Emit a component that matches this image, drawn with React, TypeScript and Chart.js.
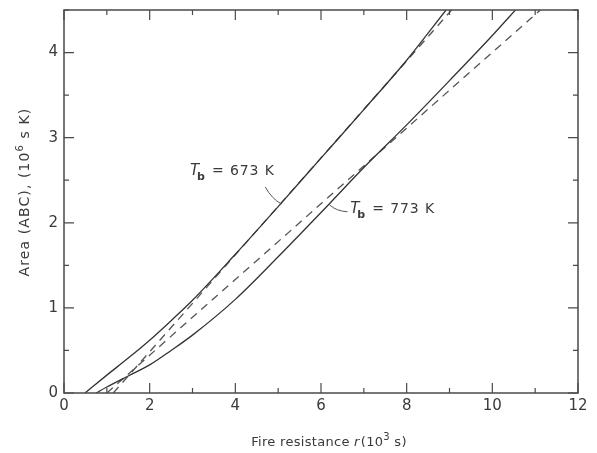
import React, { useEffect, useRef } from "react";
import { Chart, registerables } from "chart.js";

Chart.register(...registerables);

// Data (r in 10^3 s, area in 10^6 s K)
const r673Solid = [0.49, 1, 1.5, 2, 2.5, 3, 4, 5, 6, 7, 8, 8.92];
const a673Solid = [0, 0.21, 0.41, 0.62, 0.85, 1.09, 1.63, 2.19, 2.76, 3.33, 3.91, 4.5];
const r673Dashed = [1.15, 9.05];
const a673Dashed = [0, 4.5];
const r773Solid = [0.75, 1, 1.5, 2, 2.5, 3, 4, 5, 6, 7, 8, 9, 10, 10.54];
const a773Solid = [0, 0.07, 0.2, 0.33, 0.5, 0.68, 1.1, 1.6, 2.12, 2.65, 3.15, 3.67, 4.2, 4.5];
const r773Dashed = [1.0, 11.12];
const a773Dashed = [0, 4.5];

const xTickValues = [0, 2, 4, 6, 8, 10, 12];
const yTickValues = [0, 1, 2, 3, 4];

// Annotation labels in data units
const labelTexts = ["673 K", "773 K"];
const labelPos = [
  [2.94, 2.56],
  [6.68, 2.11],
];
const leaderFrom = [
  [4.7, 2.42],
  [6.2, 2.21],
];
const leaderTo = [
  [5.08, 2.22],
  [6.62, 2.13],
];

const FONT = "'DejaVu Sans', sans-serif";
const INK = "#3a3a3a";

const toPts = (xs: number[], ys: number[]) => xs.map((x, i) => ({ x, y: ys[i] }));

const decorPlugin = {
  id: "decor",
  afterDraw(chart: any) {
    const { ctx, chartArea } = chart;
    const xs = chart.scales.x;
    const ys = chart.scales.y;
    const { left, right, top, bottom } = chartArea;
    ctx.save();
    // frame
    ctx.strokeStyle = "#4a4a4a";
    ctx.lineWidth = 1.5;
    ctx.strokeRect(left, top, right - left, bottom - top);
    // inward ticks
    ctx.lineWidth = 1.2;
    ctx.beginPath();
    for (let v = 0; v <= 12; v += 1) {
      const px = xs.getPixelForValue(v);
      const len = v % 2 === 0 ? 10 : 5;
      ctx.moveTo(px, bottom);
      ctx.lineTo(px, bottom - len);
      ctx.moveTo(px, top);
      ctx.lineTo(px, top + len);
    }
    for (let v = 0; v <= 4.5; v += 0.5) {
      const py = ys.getPixelForValue(v);
      const len = Number.isInteger(v) ? 10 : 5;
      ctx.moveTo(left, py);
      ctx.lineTo(left + len, py);
      ctx.moveTo(right, py);
      ctx.lineTo(right - len, py);
    }
    ctx.stroke();

    // leaders
    ctx.strokeStyle = "#555";
    ctx.lineWidth = 1;
    for (let i = 0; i < labelTexts.length; i++) {
      const x1 = xs.getPixelForValue(leaderFrom[i][0]);
      const y1 = ys.getPixelForValue(leaderFrom[i][1]);
      const x2 = xs.getPixelForValue(leaderTo[i][0]);
      const y2 = ys.getPixelForValue(leaderTo[i][1]);
      ctx.beginPath();
      ctx.moveTo(x1, y1);
      ctx.quadraticCurveTo((x1 + x2) / 2 - 2, (y1 + y2) / 2 + 3, x2, y2);
      ctx.stroke();
    }

    // labels T_b = ... K
    ctx.fillStyle = INK;
    ctx.textBaseline = "alphabetic";
    ctx.textAlign = "left";
    for (let i = 0; i < labelTexts.length; i++) {
      const lx = xs.getPixelForValue(labelPos[i][0]);
      const ly = ys.getPixelForValue(labelPos[i][1]);
      let cx = lx;
      ctx.font = `italic 15px ${FONT}`;
      ctx.fillText("T", cx, ly);
      cx += ctx.measureText("T").width - 2;
      ctx.font = `bold 11px ${FONT}`;
      ctx.fillText("b", cx, ly + 5);
      cx += ctx.measureText("b").width + 7;
      ctx.font = `14px ${FONT}`;
      (ctx as any).letterSpacing = "0.9px";
      ctx.fillText("= " + labelTexts[i], cx, ly);
      (ctx as any).letterSpacing = "0px";
    }

    // x axis title
    (ctx as any).letterSpacing = "0.3px";
    const xt1 = "Fire resistance ";
    const xt2 = "r";
    const xt3 = "(10";
    const xt4 = "3";
    const xt5 = " s)";
    ctx.font = `13px ${FONT}`;
    const w1 = ctx.measureText(xt1).width;
    ctx.font = `italic 13px ${FONT}`;
    const w2 = ctx.measureText(xt2).width + 1;
    ctx.font = `13px ${FONT}`;
    const w3 = ctx.measureText(xt3).width;
    ctx.font = `10px ${FONT}`;
    const w4 = ctx.measureText(xt4).width;
    ctx.font = `13px ${FONT}`;
    const w5 = ctx.measureText(xt5).width;
    const total = w1 + w2 + w3 + w4 + w5;
    let tx = 329 - total / 2;
    const ty = 446;
    ctx.fillText(xt1, tx, ty);
    tx += w1;
    ctx.font = `italic 13px ${FONT}`;
    ctx.fillText(xt2, tx, ty);
    tx += w2;
    ctx.font = `13px ${FONT}`;
    ctx.fillText(xt3, tx, ty);
    tx += w3;
    ctx.font = `10px ${FONT}`;
    ctx.fillText(xt4, tx, ty - 6);
    tx += w4;
    ctx.font = `13px ${FONT}`;
    ctx.fillText(xt5, tx, ty);

    // y title rotated
    ctx.save();
    (ctx as any).letterSpacing = "1.1px";
    ctx.translate(29, 192);
    ctx.rotate(-Math.PI / 2);
    const ya = "Area (ABC), (10";
    const yb = "6";
    const yc = " s K)";
    ctx.font = `14px ${FONT}`;
    const wa = ctx.measureText(ya).width;
    ctx.font = `10px ${FONT}`;
    const wb = ctx.measureText(yb).width;
    ctx.font = `14px ${FONT}`;
    const wc = ctx.measureText(yc).width;
    let yx = -(wa + wb + wc) / 2;
    ctx.fillText(ya, yx, 0);
    yx += wa;
    ctx.font = `10px ${FONT}`;
    ctx.fillText(yb, yx, -6);
    yx += wb;
    ctx.font = `14px ${FONT}`;
    ctx.fillText(yc, yx, 0);
    ctx.restore();
    (ctx as any).letterSpacing = "0px";

    ctx.restore();
  },
};

export default function App() {
  const ref = useRef<HTMLCanvasElement | null>(null);
  useEffect(() => {
    if (!ref.current) return;
    const solid = { borderColor: "#333", borderWidth: 1.3, pointRadius: 0, fill: false };
    const dashed = { borderColor: "#555", borderWidth: 1.3, pointRadius: 0, fill: false, borderDash: [8, 6] };
    const chart = new Chart(ref.current, {
      type: "line",
      data: {
        datasets: [
          { label: "673 K", data: toPts(r673Solid, a673Solid), cubicInterpolationMode: "monotone", ...solid },
          { label: "673 K approx", data: toPts(r673Dashed, a673Dashed), ...dashed },
          { label: "773 K", data: toPts(r773Solid, a773Solid), cubicInterpolationMode: "monotone", ...solid },
          { label: "773 K approx", data: toPts(r773Dashed, a773Dashed), ...dashed },
        ] as any,
      },
      options: {
        animation: false,
        responsive: false,
        layout: { padding: { top: 10, right: 19, left: 0, bottom: 0 } },
        plugins: { legend: { display: false }, tooltip: { enabled: false } },
        scales: {
          x: {
            type: "linear",
            min: 0,
            max: 12,
            grid: { display: false, drawTicks: false },
            border: { display: false },
            afterFit: (s: any) => {
              s.height = 60;
              s.paddingLeft = 0;
              s.paddingRight = 0;
            },
            afterBuildTicks: (s: any) => {
              s.ticks = xTickValues.map((v) => ({ value: v }));
            },
            ticks: { color: INK, font: { family: FONT, size: 15 }, padding: 4, maxRotation: 0 },
          },
          y: {
            type: "linear",
            min: 0,
            max: 4.5,
            grid: { display: false, drawTicks: false },
            border: { display: false },
            afterFit: (s: any) => {
              s.width = 64;
              s.paddingTop = 0;
              s.paddingBottom = 0;
            },
            afterBuildTicks: (s: any) => {
              s.ticks = yTickValues.map((v) => ({ value: v }));
            },
            ticks: { color: INK, font: { family: FONT, size: 15 }, padding: 6 },
          },
        },
      } as any,
      plugins: [decorPlugin],
    });
    return () => chart.destroy();
  }, []);
  return (
    <div style={{ position: "absolute", left: 0, top: 0, width: 597, height: 453, background: "#fff" }}>
      <canvas ref={ref} width={597} height={453} style={{ display: "block" }} />
    </div>
  );
}
